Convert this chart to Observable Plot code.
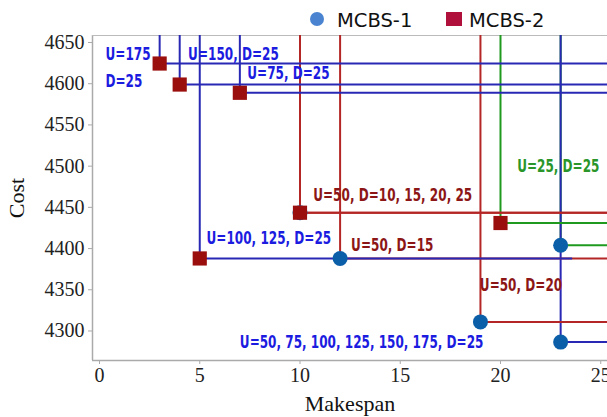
<!DOCTYPE html>
<html><head><meta charset="utf-8">
<script src="https://cdn.jsdelivr.net/npm/d3@7"></script>
<script src="https://cdn.jsdelivr.net/npm/@observablehq/plot@0.6"></script>
<style>
body{margin:0;background:#fff;}
#legend{position:relative;width:607px;height:30px;font-family:"DejaVu Sans",Verdana,sans-serif;font-size:19.5px;color:#111;}
#legend .sym{position:absolute;display:block;}
#legend .lab{position:absolute;top:10.5px;line-height:1;white-space:nowrap;}
#chart svg{display:block;}
</style>
</head><body>
<div id="legend">
  <span class="sym" style="left:310px;top:12px;width:14px;height:14px;border-radius:50%;background:#4a84d0"></span>
  <span class="lab" style="left:337px">MCBS-1</span>
  <span class="sym" style="left:446px;top:12px;width:16px;height:14px;background:#b0103c"></span>
  <span class="lab" style="left:469px">MCBS-2</span>
</div>
<div id="chart"></div>
<script>
// ---- data ----
const mcbs1X = [10, 12, 19, 23, 23];
const mcbs1Y = [4443.5, 4388, 4311, 4404, 4286.5];
const mcbs1Line = ["red", "red", "red", "green", "blue"];
const mcbs1HEnd = [null, null, null, null, null];

const mcbs2X = [3, 4, 7, 5, 10, 20];
const mcbs2Y = [4624.5, 4599, 4589, 4388, 4443.5, 4431];
const mcbs2Line = ["blue", "blue", "blue", "blue", "red", "green"];
const mcbs2HEnd = [null, null, null, 23.6, null, null];

const labelText = ["U=175", "D=25", "U=150, D=25", "U=75, D=25", "U=50, D=10, 15, 20, 25",
  "U=25, D=25", "U=100, 125, D=25", "U=50, D=15", "U=50, D=20", "U=50, 75, 100, 125, 150, 175, D=25"];
const labelX = [0.3, 0.3, 4.42, 7.37, 10.66, 20.83, 5.34, 12.55, 18.97, 7.0];
const labelY = [4635.4, 4603.3, 4635.8, 4612.4, 4464.4, 4500.2, 4412.8, 4404.3, 4355.8, 4286.1];
const labelGroup = ["blue", "blue", "blue", "blue", "red", "green", "blue", "red", "red", "blue"];

const xTicks = [0, 5, 10, 15, 20, 25];
const yTicks = [4300, 4350, 4400, 4450, 4500, 4550, 4600, 4650];

// ---- styling ----
const xDomain = [-0.349, 25.337];
const yDomain = [4264.2, 4658.5];
const lineColor = {blue: "#2828b4", red: "#b42626", green: "#1f9a1f"};
const textColor = {blue: "#1c1ce0", red: "#8c1616", green: "#2a962a"};
const order = {red: 0, green: 1, blue: 2};

const s1 = mcbs1X.map((x, i) => ({series: "MCBS-1", x, y: mcbs1Y[i], line: mcbs1Line[i], hEnd: mcbs1HEnd[i]}));
const s2 = mcbs2X.map((x, i) => ({series: "MCBS-2", x, y: mcbs2Y[i], line: mcbs2Line[i], hEnd: mcbs2HEnd[i]}));
const lines = [...s1, ...s2].sort((a, b) => order[a.line] - order[b.line]);
const labels = labelText.map((t, i) => ({t, x: labelX[i], y: labelY[i], g: labelGroup[i]}));

const chart = Plot.plot({
  width: 607,
  height: 387,
  marginTop: 5,
  marginBottom: 57,
  marginLeft: 92,
  marginRight: 0,
  style: {fontFamily: "'Liberation Serif', 'Times New Roman', serif", fontSize: "20px", background: "#fff", overflow: "visible"},
  x: {domain: xDomain, ticks: xTicks},
  y: {domain: yDomain, ticks: yTicks},
  marks: [
    Plot.axisX({ticks: xTicks, tickSize: 4, tickPadding: 3, stroke: "#aaa", fill: "#222", fontSize: 20, label: null, tickFormat: "d"}),
    Plot.axisY({ticks: yTicks, tickSize: 4, tickPadding: 4, stroke: "#aaa", fill: "#222", fontSize: 20, label: null, tickFormat: "d"}),
    Plot.ruleX([xDomain[0]], {stroke: "#aaa", strokeWidth: 1.5}),
    Plot.ruleY([yDomain[0]], {stroke: "#aaa", strokeWidth: 1.5}),
    Plot.ruleY([yDomain[1]], {stroke: "#bbb", strokeWidth: 1}),
    Plot.ruleX(lines, {x: "x", y1: "y", y2: () => yDomain[1], stroke: d => lineColor[d.line], strokeWidth: 2, clip: true}),
    Plot.ruleY(lines, {y: "y", x1: "x", x2: d => d.hEnd ?? xDomain[1] + 1, stroke: d => lineColor[d.line], strokeWidth: 2, clip: true}),
    Plot.dot(s1, {x: "x", y: "y", r: 7.5, fill: "#0b5ea8", stroke: "none", symbol: "circle"}),
    Plot.dot(s2, {x: "x", y: "y", r: 8, fill: "#9a0e0e", stroke: "none", symbol: "square"}),
    Plot.text(labels, {x: "x", y: "y", text: "t", textAnchor: "start", fill: d => textColor[d.g],
      fontWeight: "bold", fontSize: 13.4, fontFamily: "'DejaVu Sans Condensed', 'DejaVu Sans', sans-serif"}),
    Plot.text(["Makespan"], {frameAnchor: "bottom", textAnchor: "middle", dy: 50, lineAnchor: "bottom", fontSize: 22, fill: "#111"}),
    Plot.text(["Cost"], {frameAnchor: "left", textAnchor: "middle", dx: -76, rotate: -90, lineAnchor: "middle", fontSize: 22, fill: "#111"})
  ]
});
// stretch the annotation glyphs vertically (tall narrow bold face in the reference)
const textGroups = chart.querySelectorAll('g[aria-label="text"]');
if (textGroups.length) {
  textGroups[0].querySelectorAll("text").forEach(t => {
    let tr = t.getAttribute("transform");
    if (!tr) {
      const x = t.getAttribute("x") || 0, y = t.getAttribute("y") || 0;
      t.removeAttribute("x"); t.removeAttribute("y");
      tr = `translate(${x},${y})`;
    }
    t.setAttribute("transform", tr + " scale(1,1.32)");
  });
}
document.getElementById("chart").appendChild(chart);
</script>
</body></html>
